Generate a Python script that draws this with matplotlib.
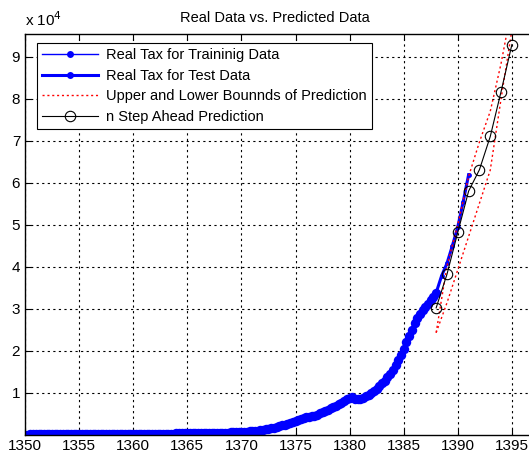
import matplotlib
matplotlib.use("Agg")
import matplotlib.pyplot as plt
import numpy as np

# ── Data (tax values in units of 1e4) ─────────────────────────────────────────

# quarterly training data, 1350.00 .. 1388.00
train_tax = [
    0.004, 0.004, 0.005, 0.005,   # 1350
    0.005, 0.006, 0.006, 0.006,   # 1351
    0.007, 0.007, 0.007, 0.008,   # 1352
    0.008, 0.008, 0.009, 0.009,   # 1353
    0.009, 0.010, 0.010, 0.011,   # 1354
    0.011, 0.011, 0.012, 0.012,   # 1355
    0.013, 0.013, 0.014, 0.014,   # 1356
    0.015, 0.015, 0.016, 0.016,   # 1357
    0.017, 0.017, 0.018, 0.018,   # 1358
    0.019, 0.019, 0.020, 0.020,   # 1359
    0.021, 0.021, 0.022, 0.022,   # 1360
    0.023, 0.023, 0.024, 0.024,   # 1361
    0.025, 0.025, 0.026, 0.026,   # 1362
    0.027, 0.027, 0.028, 0.028,   # 1363
    0.029, 0.029, 0.030, 0.030,   # 1364
    0.031, 0.031, 0.032, 0.032,   # 1365
    0.033, 0.033, 0.034, 0.034,   # 1366
    0.035, 0.035, 0.036, 0.036,   # 1367
    0.037, 0.038, 0.040, 0.045,   # 1368
    0.055, 0.060, 0.062, 0.064,   # 1369
    0.066, 0.070, 0.075, 0.080,   # 1370
    0.085, 0.090, 0.096, 0.102,   # 1371
    0.110, 0.125, 0.140, 0.155,   # 1372
    0.170, 0.185, 0.200, 0.220,   # 1373
    0.240, 0.260, 0.280, 0.300,   # 1374
    0.330, 0.350, 0.370, 0.390,   # 1375
    0.410, 0.425, 0.440, 0.455,   # 1376
    0.480, 0.510, 0.540, 0.570,   # 1377
    0.600, 0.630, 0.660, 0.690,   # 1378
    0.720, 0.760, 0.800, 0.840,   # 1379
    0.880, 0.900, 0.850, 0.840,   # 1380
    0.860, 0.880, 0.910, 0.950,   # 1381
    0.990, 1.040, 1.100, 1.160,   # 1382
    1.220, 1.290, 1.370, 1.450,   # 1383
    1.540, 1.650, 1.770, 1.900,   # 1384
    2.050, 2.200, 2.350, 2.500,   # 1385
    2.650, 2.780, 2.880, 2.960,   # 1386
    3.040, 3.120, 3.200, 3.280,   # 1387
    3.380,                        # 1388
]
train_year = 1350 + 0.25 * np.arange(len(train_tax))

test_year = [1388, 1388.5, 1389, 1389.5, 1390, 1390.5, 1391]
test_tax = [3.38, 3.78, 4.08, 4.50, 4.95, 5.55, 6.19]

pred_year = [1388, 1389, 1390, 1391, 1392, 1393, 1394, 1395]
pred_tax = [3.02, 3.82, 4.82, 5.80, 6.31, 7.10, 8.17, 9.29]
upper_tax = [2.43, 4.02, 5.00, 6.15, 6.97, 7.70, 8.84, 10.20]
lower_tax = [2.43, 3.14, 3.93, 4.72, 5.51, 6.30, 8.00, 9.64]

x_ticks = [1350, 1355, 1360, 1365, 1370, 1375, 1380, 1385, 1390, 1395]
y_ticks = [1, 2, 3, 4, 5, 6, 7, 8, 9]

# ── Figure ────────────────────────────────────────────────────────────────────

plt.rcParams["font.family"] = ["Liberation Sans", "DejaVu Sans"]

W, H = 529, 454
fig = plt.figure(figsize=(W / 100, H / 100), dpi=100)
# axes run past the right edge of the picture, like the cropped original
ax = fig.add_axes([25 / W, (H - 434.7) / H, 50 * 10.82 / W, 400.7 / H])

# thick band of dense markers for the training series
ax.plot(train_year, train_tax, color="#0000FF", lw=2.5, marker="o", ms=6.8,
        mew=0, label="Real Tax for Traininig Data")
ax.plot(test_year, test_tax, color="#0000FF", lw=2.2, marker="o", ms=3.5,
        mew=0, label="Real Tax for Test Data")
ax.plot(pred_year, upper_tax, color="#FF0000", lw=1, ls=(0, (1.5, 2)),
        label="Upper and Lower Bounnds of Prediction")
ax.plot(pred_year, lower_tax, color="#FF0000", lw=1, ls=(0, (1.5, 2)))
ax.plot(pred_year, pred_tax, color="black", lw=0.8, marker="o", ms=7.5,
        mfc="none", mec="black", mew=0.8, label="n Step Ahead Prediction")

ax.set_xlim(1350, 1400)
ax.set_ylim(0, 400.7 / 42.0)
ax.set_xticks(x_ticks)
ax.set_yticks(y_ticks)
ax.tick_params(direction="in", length=4, width=0.8, labelsize=11,
               top=True, right=True, colors="black")
ax.tick_params(axis="x", pad=3)
ax.grid(True, color="black", ls=(0, (2, 3)), lw=0.8)
for s in ax.spines.values():
    s.set_linewidth(1.0)

leg = ax.legend(loc="upper left", bbox_to_anchor=(12 / (50 * 10.82), 1 - 9 / 400.7),
                fontsize=10.5, frameon=True, fancybox=False, framealpha=1,
                edgecolor="black", handlelength=3.8, borderpad=0.35,
                labelspacing=0.45, handletextpad=0.6, borderaxespad=0)
leg.get_frame().set_linewidth(0.8)
# legend handles stay thin with small dots, as in the original
leg.legend_handles[0].set_linewidth(1)
for h in leg.legend_handles[:2]:
    h.set_markersize(5)

fig.text(275 / W, 1 - 18 / H, "Real Data vs. Predicted Data",
         ha="center", va="center", fontsize=10.5)
fig.text(25 / W, 1 - 20 / H, r"x 10$^4$", ha="left", va="center", fontsize=11)

fig.savefig("out.png", dpi=100)
